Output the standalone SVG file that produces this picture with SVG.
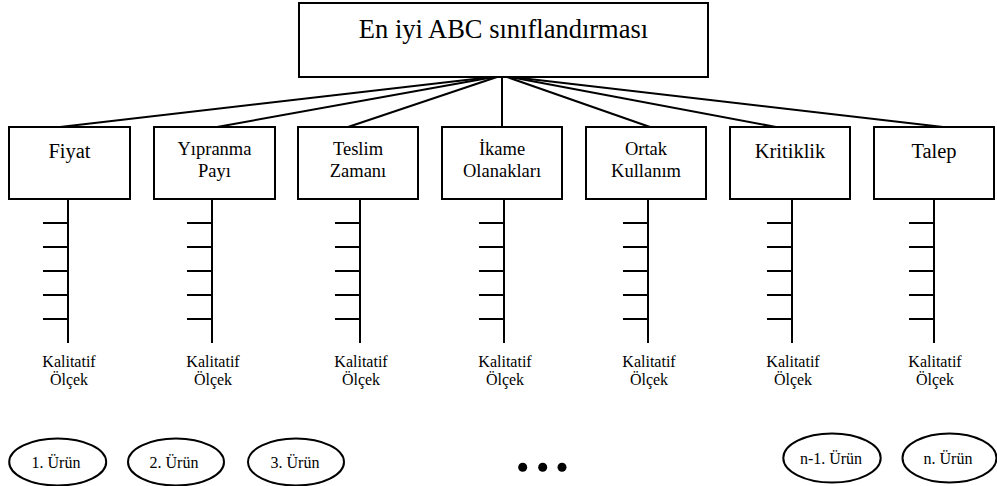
<svg xmlns="http://www.w3.org/2000/svg" width="997" height="486" viewBox="0 0 997 486">
<style>
  .box{fill:#fff;stroke:#000;stroke-width:2}
  .ln{stroke:#000;stroke-width:2;fill:none}
  .t{font-family:"Liberation Serif","Times New Roman",serif;fill:#000;text-anchor:middle}
  .big{font-size:26.5px}
  .one{font-size:20.5px}
  .two{font-size:18.5px}
  .sc{font-size:16px}
  .el{fill:#fff;stroke:#000;stroke-width:2}
</style>
<defs>
  <g id="scale">
    <line class="ln" x1="0" y1="199" x2="0" y2="343"/>
    <line class="ln" x1="-25" y1="223" x2="0" y2="223"/>
    <line class="ln" x1="-25" y1="247" x2="0" y2="247"/>
    <line class="ln" x1="-25" y1="271" x2="0" y2="271"/>
    <line class="ln" x1="-25" y1="295" x2="0" y2="295"/>
    <line class="ln" x1="-25" y1="319" x2="0" y2="319"/>
    <text class="t sc" x="1" y="367">Kalitatif</text>
    <text class="t sc" x="1" y="385">Ölçek</text>
  </g>
</defs>
<g id="connectors">
  <line class="ln" x1="492" y1="77" x2="60" y2="127"/>
  <line class="ln" x1="494" y1="77" x2="217" y2="127"/>
  <line class="ln" x1="497" y1="77" x2="348" y2="127"/>
  <line class="ln" x1="502" y1="77" x2="502" y2="127"/>
  <line class="ln" x1="507" y1="77" x2="650" y2="127"/>
  <line class="ln" x1="510" y1="77" x2="776" y2="127"/>
  <line class="ln" x1="512" y1="77" x2="943" y2="127"/>
</g>
<g id="root">
  <rect class="box" x="299" y="3" width="409" height="74"/>
  <text class="t big" x="503.5" y="38">En iyi ABC sınıflandırması</text>
</g>
<g id="fiyat">
  <rect class="box" x="9" y="127" width="121" height="72"/>
  <text class="t one" x="69.5" y="158">Fiyat</text>
  <use href="#scale" x="68"/>
</g>
<g id="yipranma">
  <rect class="box" x="154" y="127" width="121" height="72"/>
  <text class="t two" x="214.5" y="155">Yıpranma</text>
  <text class="t two" x="214.5" y="177">Payı</text>
  <use href="#scale" x="212"/>
</g>
<g id="teslim">
  <rect class="box" x="298" y="127" width="120" height="72"/>
  <text class="t two" x="358" y="155">Teslim</text>
  <text class="t two" x="358" y="177">Zamanı</text>
  <use href="#scale" x="360"/>
</g>
<g id="ikame">
  <rect class="box" x="442" y="127" width="120" height="72"/>
  <text class="t two" x="502" y="155">İkame</text>
  <text class="t two" x="502" y="177">Olanakları</text>
  <use href="#scale" x="504"/>
</g>
<g id="ortak">
  <rect class="box" x="586" y="127" width="120" height="72"/>
  <text class="t two" x="646" y="155">Ortak</text>
  <text class="t two" x="646" y="177">Kullanım</text>
  <use href="#scale" x="648"/>
</g>
<g id="kritiklik">
  <rect class="box" x="730" y="127" width="120" height="72"/>
  <text class="t one" x="790" y="158">Kritiklik</text>
  <use href="#scale" x="792"/>
</g>
<g id="talep">
  <rect class="box" x="874" y="127" width="120" height="72"/>
  <text class="t one" x="934" y="158">Talep</text>
  <use href="#scale" x="934"/>
</g>
<g id="urun1">
  <ellipse class="el" cx="57.7" cy="462" rx="48.5" ry="23.5"/>
  <text class="t sc" x="56" y="468">1. Ürün</text>
</g>
<g id="urun2">
  <ellipse class="el" cx="176" cy="462" rx="48" ry="23.5"/>
  <text class="t sc" x="174" y="468">2. Ürün</text>
</g>
<g id="urun3">
  <ellipse class="el" cx="296" cy="462" rx="48" ry="23.5"/>
  <text class="t sc" x="295" y="468">3. Ürün</text>
</g>
<g id="dots">
  <circle cx="522.7" cy="467.3" r="4.5" fill="#000"/>
  <circle cx="542.7" cy="467.3" r="4.5" fill="#000"/>
  <circle cx="562" cy="467.3" r="4.5" fill="#000"/>
</g>
<g id="urun-n1">
  <ellipse class="el" cx="832" cy="458" rx="48.7" ry="24.5"/>
  <text class="t sc" x="831" y="464">n-1. Ürün</text>
</g>
<g id="urun-n">
  <ellipse class="el" cx="949.5" cy="458" rx="47" ry="24.5"/>
  <text class="t sc" x="948" y="464">n. Ürün</text>
</g>
</svg>
